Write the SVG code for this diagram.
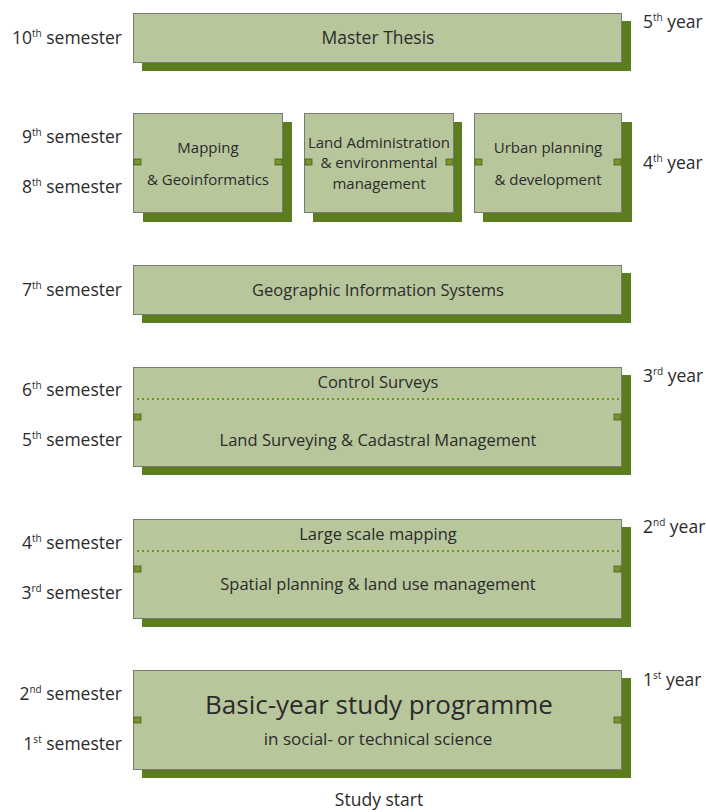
<svg xmlns="http://www.w3.org/2000/svg" width="706" height="812" viewBox="0 0 706 812">
<style>
.bg{fill:#ffffff}
.box{fill:#b8c69c;stroke:#7a7a72;stroke-width:1}
.sh{fill:#5b7d1e}
.port{fill:#76952c;stroke:#4a5e1a;stroke-width:0.8}
.dot{stroke:#6c9a1e;stroke-width:2;stroke-dasharray:2 3;fill:none}
text{font-family:"Open Sans","DejaVu Sans",sans-serif;fill:#2b2b2b}
.t{font-size:15px;text-anchor:middle}
.w{font-size:16.5px;text-anchor:middle}
.side{font-size:17.5px}
.sem{text-anchor:end}
.big{font-size:26px;text-anchor:middle}
.sup{font-size:10px}
</style>
<rect class="bg" width="706" height="812"/>
<g id="labels">
<text class="side sem" x="122" y="44">10<tspan class="sup" dy="-7">th</tspan><tspan dy="7"> semester</tspan></text>
<text class="side sem" x="122" y="143">9<tspan class="sup" dy="-7">th</tspan><tspan dy="7"> semester</tspan></text>
<text class="side sem" x="122" y="193">8<tspan class="sup" dy="-7">th</tspan><tspan dy="7"> semester</tspan></text>
<text class="side sem" x="122" y="296">7<tspan class="sup" dy="-7">th</tspan><tspan dy="7"> semester</tspan></text>
<text class="side sem" x="122" y="396">6<tspan class="sup" dy="-7">th</tspan><tspan dy="7"> semester</tspan></text>
<text class="side sem" x="122" y="446">5<tspan class="sup" dy="-7">th</tspan><tspan dy="7"> semester</tspan></text>
<text class="side sem" x="122" y="549">4<tspan class="sup" dy="-7">th</tspan><tspan dy="7"> semester</tspan></text>
<text class="side sem" x="122" y="599">3<tspan class="sup" dy="-7">rd</tspan><tspan dy="7"> semester</tspan></text>
<text class="side sem" x="122" y="700">2<tspan class="sup" dy="-7">nd</tspan><tspan dy="7"> semester</tspan></text>
<text class="side sem" x="122" y="750">1<tspan class="sup" dy="-7">st</tspan><tspan dy="7"> semester</tspan></text>
<text class="side" x="643" y="28">5<tspan class="sup" dy="-7">th</tspan><tspan dy="7"> year</tspan></text>
<text class="side" x="643" y="169">4<tspan class="sup" dy="-7">th</tspan><tspan dy="7"> year</tspan></text>
<text class="side" x="643" y="382">3<tspan class="sup" dy="-7">rd</tspan><tspan dy="7"> year</tspan></text>
<text class="side" x="643" y="533">2<tspan class="sup" dy="-7">nd</tspan><tspan dy="7"> year</tspan></text>
<text class="side" x="643" y="686">1<tspan class="sup" dy="-7">st</tspan><tspan dy="7"> year</tspan></text>
<text class="side" x="379" y="806" text-anchor="middle">Study start</text>
</g>
<g id="connectors"></g>
<g id="master-thesis">
<rect class="sh" x="142" y="21" width="489" height="50"/>
<rect class="box" x="133.5" y="13.5" width="488" height="49"/>
<text class="w" x="378" y="44" style="font-size:17.5px">Master Thesis</text>
</g>
<g id="mapping">
<rect class="sh" x="143" y="122" width="149" height="100"/>
<rect class="box" x="133.5" y="113.5" width="149" height="99"/>
<rect class="port" x="134" y="159" width="7" height="6"/>
<rect class="port" x="275" y="159" width="7" height="6"/>
<text class="t" x="208" y="153">Mapping</text>
<text class="t" x="208" y="185">&amp; Geoinformatics</text>
</g>
<g id="land-administration">
<rect class="sh" x="313" y="122" width="149" height="100"/>
<rect class="box" x="304.5" y="113.5" width="149" height="99"/>
<rect class="port" x="305" y="159" width="7" height="6"/>
<rect class="port" x="446" y="159" width="7" height="6"/>
<text class="t" x="379" y="148">Land Administration</text>
<text class="t" x="379" y="168">&amp; environmental</text>
<text class="t" x="379" y="189">management</text>
</g>
<g id="urban-planning">
<rect class="sh" x="483" y="122" width="149" height="100"/>
<rect class="box" x="474.5" y="113.5" width="147" height="99"/>
<rect class="port" x="475" y="159" width="7" height="6"/>
<rect class="port" x="614" y="159" width="7" height="6"/>
<text class="t" x="548" y="153">Urban planning</text>
<text class="t" x="548" y="185">&amp; development</text>
</g>
<g id="gis">
<rect class="sh" x="142" y="273" width="489" height="50"/>
<rect class="box" x="133.5" y="265.5" width="488" height="49"/>
<text class="w" x="378" y="296">Geographic Information Systems</text>
</g>
<g id="surveying">
<rect class="sh" x="142" y="375" width="489" height="100"/>
<rect class="box" x="133.5" y="367.5" width="488" height="99"/>
<line class="dot" x1="137" y1="399" x2="619" y2="399"/>
<rect class="port" x="134" y="414" width="7" height="6"/>
<rect class="port" x="614" y="414" width="7" height="6"/>
<text class="w" x="378" y="388">Control Surveys</text>
<text class="w" x="378" y="446">Land Surveying &amp; Cadastral Management</text>
</g>
<g id="planning">
<rect class="sh" x="142" y="527" width="489" height="100"/>
<rect class="box" x="133.5" y="519.5" width="488" height="99"/>
<line class="dot" x1="137" y1="551" x2="619" y2="551"/>
<rect class="port" x="134" y="566" width="7" height="6"/>
<rect class="port" x="614" y="566" width="7" height="6"/>
<text class="w" x="378" y="540">Large scale mapping</text>
<text class="w" x="378" y="590">Spatial planning &amp; land use management</text>
</g>
<g id="basic-year">
<rect class="sh" x="142" y="678" width="489" height="100"/>
<rect class="box" x="133.5" y="670.5" width="488" height="99"/>
<rect class="port" x="134" y="717" width="7" height="6"/>
<rect class="port" x="614" y="717" width="7" height="6"/>
<text class="big" x="379" y="714">Basic-year study programme</text>
<text class="w" x="378" y="745" style="font-size:17px">in social- or technical science</text>
</g>
</svg>
